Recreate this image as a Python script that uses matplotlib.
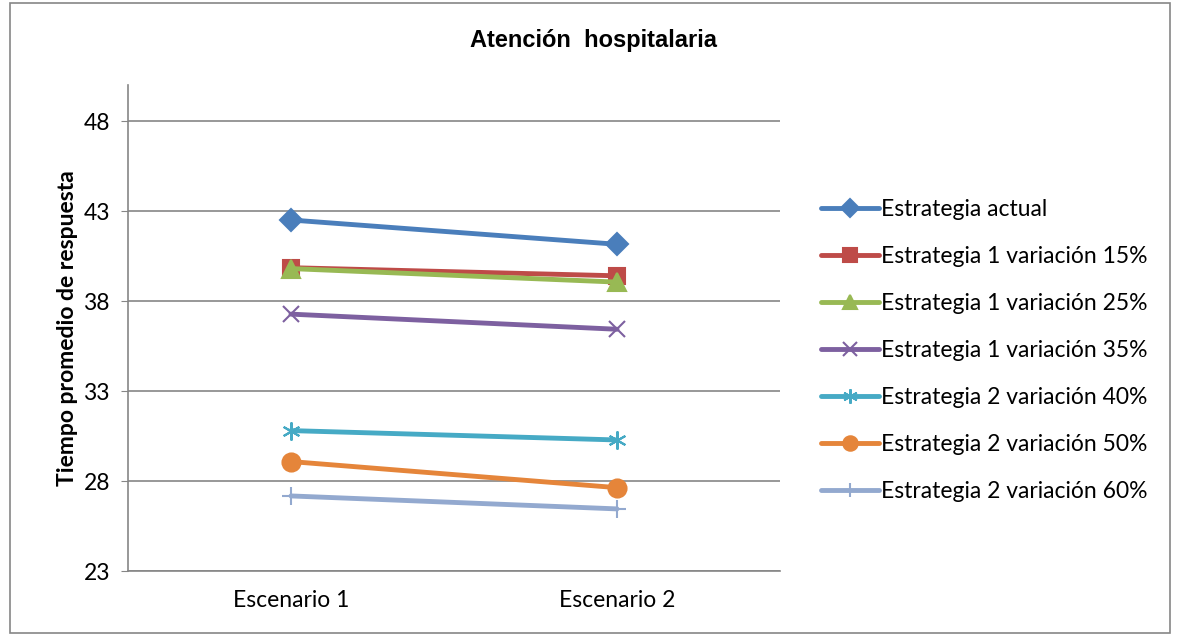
import matplotlib.pyplot as plt
from matplotlib.patches import Rectangle

plt.rcParams['font.family'] = ['Lato', 'DejaVu Sans']

escenarios = ['Escenario 1', 'Escenario 2']
series = ['Estrategia actual',
          'Estrategia 1 variación 15%',
          'Estrategia 1 variación 25%',
          'Estrategia 1 variación 35%',
          'Estrategia 2 variación 40%',
          'Estrategia 2 variación 50%',
          'Estrategia 2 variación 60%']
actual = [42.5, 41.15]
e1_15 = [39.85, 39.4]
e1_25 = [39.8, 39.05]
e1_35 = [37.27, 36.43]
e2_40 = [30.8, 30.28]
e2_50 = [29.08, 27.63]
e2_60 = [27.17, 26.45]
valores = [actual, e1_15, e1_25, e1_35, e2_40, e2_50, e2_60]
yticks = [23, 28, 33, 38, 43, 48]

colores = ['#4A7EBB', '#BE4B48', '#98B954', '#7D60A0', '#46AAC5', '#E5853A', '#93A9CF']
marcadores = ['D', 's', '^', 'x', (6, 2, 0), 'o', '+']
tamanos = [11, 12, 13, 12, 13, 13, 13]

fig = plt.figure(figsize=(11.81, 6.34), dpi=100)
ax = fig.add_axes([128 / 1181, 1 - 571 / 634, 652 / 1181, 486 / 634])

x = range(len(escenarios))
for nombre, v, c, m, s in zip(series, valores, colores, marcadores, tamanos):
    ax.plot(x, v, color=c, lw=3.5, marker=m, markersize=s, markeredgewidth=1.5,
            markeredgecolor=c, label=nombre, solid_capstyle='round')

ax.set_xlim(-0.5, 1.5)
ax.set_ylim(23, 50)
ax.set_yticks(yticks)
ax.set_xticks(list(x))
ax.set_xticklabels(escenarios)
ax.grid(axis='y', color='#868686', lw=1.2)
ax.set_axisbelow(True)
for s in ['top', 'right']:
    ax.spines[s].set_visible(False)
for s in ['left', 'bottom']:
    ax.spines[s].set_color('#868686')
    ax.spines[s].set_linewidth(1.2)
ax.tick_params(axis='y', length=5, color='#868686', labelsize=16.5, pad=8)
ax.tick_params(axis='x', length=0, labelsize=16.5, pad=14)

ax.set_ylabel('Tiempo promedio de respuesta', fontsize=16.5, fontweight='bold', labelpad=4)
fig.text(594 / 1181, 1 - 40 / 634, 'Atención  hospitalaria', ha='center', va='center',
         fontsize=17, fontweight='bold', family=['Liberation Sans', 'DejaVu Sans'])

ax.legend(loc='upper left', bbox_to_anchor=(810 / 1181, 1 - 188 / 634),
          bbox_transform=fig.transFigure, frameon=False, fontsize=16.5,
          handlelength=2.5, handletextpad=0.1, labelspacing=1.13, markerscale=0.8,
          borderpad=0)

fig.patches.append(Rectangle((10 / 1181, 0.002), 1160 / 1181, 0.994,
                             transform=fig.transFigure, fill=False, ec='#868686', lw=1.2))

fig.savefig('out.png', dpi=100)
